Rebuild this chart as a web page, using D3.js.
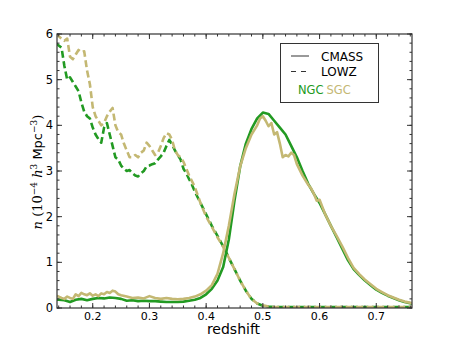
<!DOCTYPE html>
<html>
<head>
<meta charset="utf-8">
<script src="https://cdn.jsdelivr.net/npm/d3@7"></script>
<style>
  body { margin: 0; background: #fff; }
  svg text { font-family: "DejaVu Sans", sans-serif; }
</style>
</head>
<body>
<script>
var width = 458, height = 343;
var margin = {left: 57, right: 46, top: 34, bottom: 35};

// CMASS NGC (solid green)
var cmassNgcZ = [0.135,0.14,0.15,0.16,0.17,0.18,0.19,0.20,0.21,0.22,0.23,0.24,0.25,0.26,0.27,0.28,0.29,0.30,0.31,0.32,0.33,0.34,0.35,0.36,0.37,0.38,0.39,0.40,0.41,0.42,0.43,0.44,0.45,0.46,0.47,0.48,0.49,0.50,0.51,0.52,0.53,0.54,0.55,0.56,0.57,0.58,0.59,0.60,0.61,0.62,0.63,0.64,0.65,0.66,0.67,0.68,0.69,0.70,0.71,0.72,0.73,0.74,0.75,0.765];
var cmassNgcN = [0.18,0.18,0.17,0.13,0.18,0.2,0.17,0.2,0.22,0.21,0.23,0.22,0.2,0.16,0.17,0.15,0.16,0.15,0.15,0.14,0.13,0.13,0.13,0.14,0.16,0.18,0.22,0.3,0.42,0.6,0.9,1.5,2.35,3.1,3.6,3.92,4.15,4.28,4.25,4.1,3.95,3.8,3.55,3.3,3.0,2.72,2.5,2.3,2.05,1.8,1.55,1.3,1.05,0.85,0.72,0.6,0.5,0.4,0.33,0.27,0.22,0.17,0.13,0.09];

// CMASS SGC (solid khaki)
var cmassSgcZ = [0.135,0.14,0.145,0.15,0.155,0.16,0.165,0.17,0.175,0.18,0.185,0.19,0.195,0.20,0.205,0.21,0.215,0.22,0.225,0.23,0.235,0.24,0.245,0.25,0.26,0.27,0.28,0.29,0.30,0.31,0.32,0.33,0.34,0.35,0.36,0.37,0.38,0.39,0.40,0.41,0.42,0.43,0.44,0.45,0.46,0.47,0.48,0.49,0.495,0.50,0.505,0.51,0.515,0.52,0.525,0.53,0.535,0.54,0.545,0.55,0.555,0.56,0.57,0.58,0.585,0.59,0.595,0.60,0.61,0.62,0.63,0.64,0.65,0.66,0.67,0.68,0.69,0.70,0.71,0.72,0.73,0.74,0.75,0.765];
var cmassSgcN = [0.27,0.25,0.22,0.2,0.25,0.22,0.2,0.3,0.26,0.33,0.3,0.28,0.32,0.27,0.3,0.26,0.32,0.3,0.35,0.33,0.38,0.36,0.3,0.28,0.25,0.22,0.23,0.21,0.26,0.22,0.2,0.22,0.2,0.19,0.2,0.22,0.25,0.3,0.38,0.5,0.75,1.2,1.8,2.5,3.1,3.5,3.8,4.0,4.15,4.2,4.1,3.98,4.05,3.8,3.85,3.6,3.3,3.35,3.32,3.4,3.35,3.15,2.9,2.7,2.62,2.5,2.35,2.37,2.05,1.8,1.58,1.35,1.1,0.88,0.74,0.62,0.52,0.42,0.35,0.28,0.23,0.18,0.14,0.1];

// LOWZ NGC (dashed green)
var lowzNgcZ = [0.135,0.14,0.145,0.15,0.155,0.16,0.165,0.17,0.175,0.18,0.185,0.19,0.195,0.20,0.205,0.21,0.215,0.22,0.225,0.23,0.235,0.24,0.245,0.25,0.255,0.26,0.265,0.27,0.275,0.28,0.285,0.29,0.295,0.30,0.305,0.31,0.315,0.32,0.325,0.33,0.335,0.34,0.345,0.35,0.355,0.36,0.365,0.37,0.375,0.38,0.39,0.40,0.41,0.42,0.43,0.44,0.45,0.46,0.47,0.48,0.49,0.50,0.51,0.52,0.55,0.60,0.65,0.70,0.765];
var lowzNgcN = [5.8,5.75,5.7,5.3,5.0,5.05,4.95,4.85,4.75,4.5,4.3,4.2,4.15,3.95,3.8,3.7,3.62,3.95,4.05,3.8,3.55,3.3,3.25,3.12,3.05,3.0,3.02,2.95,2.9,2.88,2.95,3.0,3.1,3.12,3.15,3.17,3.25,3.32,3.4,3.55,3.68,3.58,3.45,3.35,3.25,3.05,2.95,2.82,2.7,2.55,2.3,2.05,1.8,1.58,1.35,1.1,0.85,0.6,0.38,0.2,0.1,0.05,0.03,0.02,0.02,0.02,0.02,0.02,0.02];

// LOWZ SGC (dashed khaki)
var lowzSgcZ = [0.135,0.14,0.145,0.15,0.155,0.16,0.165,0.17,0.175,0.18,0.185,0.19,0.195,0.20,0.205,0.21,0.215,0.22,0.225,0.23,0.235,0.24,0.245,0.25,0.255,0.26,0.265,0.27,0.275,0.28,0.285,0.29,0.295,0.30,0.305,0.31,0.315,0.32,0.325,0.33,0.335,0.34,0.345,0.35,0.355,0.36,0.365,0.37,0.38,0.39,0.40,0.41,0.42,0.43,0.44,0.45,0.46,0.47,0.48,0.49,0.50,0.51,0.52,0.55,0.60,0.65,0.70,0.765];
var lowzSgcN = [6.0,5.95,5.9,5.85,5.9,5.5,5.45,5.55,5.65,5.6,5.62,5.2,4.9,4.4,4.2,4.1,4.0,4.05,4.2,4.3,4.38,4.0,3.85,3.8,3.6,3.45,3.3,3.3,3.35,3.3,3.4,3.45,3.62,3.55,3.45,3.35,3.4,3.55,3.72,3.83,3.8,3.68,3.45,3.35,3.3,3.2,3.05,2.9,2.65,2.3,2.0,1.78,1.55,1.34,1.1,0.85,0.6,0.38,0.2,0.1,0.06,0.03,0.02,0.02,0.02,0.02,0.02,0.02];

var xTicks = [0.2,0.3,0.4,0.5,0.6,0.7];
var yTicks = [0,1,2,3,4,5,6];

var green = "#229a22";
var khaki = "#c4b873";

var svg = d3.select("body").append("svg")
    .attr("width", width).attr("height", height);

var x = d3.scaleLinear().domain([0.137, 0.763]).range([margin.left, width - margin.right]);
var y = d3.scaleLinear().domain([0, 6]).range([height - margin.bottom, margin.top]);

svg.append("defs").append("clipPath").attr("id", "clip")
  .append("rect")
  .attr("x", margin.left).attr("y", margin.top)
  .attr("width", width - margin.left - margin.right)
  .attr("height", height - margin.top - margin.bottom);

var line = d3.line().x(function(d){ return x(d[0]); }).y(function(d){ return y(d[1]); });

function pairs(zs, ns) {
  return zs.map(function(z, i){ return [z, ns[i]]; });
}

var series = [
  {d: pairs(lowzNgcZ, lowzNgcN), c: green, dash: "7,3.5"},
  {d: pairs(lowzSgcZ, lowzSgcN), c: khaki, dash: "7,3.5"},
  {d: pairs(cmassNgcZ, cmassNgcN), c: green, dash: null},
  {d: pairs(cmassSgcZ, cmassSgcN), c: khaki, dash: null}
];

var plot = svg.append("g").attr("clip-path", "url(#clip)");
series.forEach(function(s){
  plot.append("path")
    .attr("d", line(s.d))
    .attr("fill", "none")
    .attr("stroke", s.c)
    .attr("stroke-width", 2.6)
    .attr("stroke-linejoin", "round")
    .attr("stroke-dasharray", s.dash);
});

// axes with inward ticks on all sides
var axisColor = "#333";
var x0 = margin.left, x1 = width - margin.right, y0 = height - margin.bottom, y1 = margin.top;
var xMinor = d3.range(0.14, 0.7601, 0.02);
var yMinor = d3.range(0, 6.001, 0.2);

var axes = svg.append("g");
function ticks(g, vals, len) {
  vals.forEach(function(v){
    var px = x(v);
    g.append("line").attr("x1", px).attr("x2", px).attr("y1", y0).attr("y2", y0 - len);
    g.append("line").attr("x1", px).attr("x2", px).attr("y1", y1).attr("y2", y1 + len);
  });
}
function yticks(g, vals, len) {
  vals.forEach(function(v){
    var py = y(v);
    g.append("line").attr("x1", x0).attr("x2", x0 + len).attr("y1", py).attr("y2", py);
    g.append("line").attr("x1", x1).attr("x2", x1 - len).attr("y1", py).attr("y2", py);
  });
}
var tg = axes.append("g").attr("stroke", axisColor).attr("stroke-width", 1);
ticks(tg, xMinor, 2.5);
ticks(tg, xTicks, 5);
yticks(tg, yMinor, 2.5);
yticks(tg, yTicks, 5);

axes.append("rect")
  .attr("x", x0).attr("y", y1).attr("width", x1 - x0).attr("height", y0 - y1)
  .attr("fill", "none").attr("stroke", axisColor).attr("stroke-width", 1.2);

svg.append("g").selectAll("text").data(xTicks).enter().append("text")
  .attr("x", function(d){ return x(d); })
  .attr("y", y0 + 11.5)
  .attr("text-anchor", "middle")
  .attr("font-size", 11)
  .text(function(d){ return d3.format(".1f")(d); });

svg.append("g").selectAll("text").data(yTicks).enter().append("text")
  .attr("x", x0 - 4)
  .attr("y", function(d){ return y(d) + 4; })
  .attr("text-anchor", "end")
  .attr("font-size", 11.5)
  .text(function(d){ return d; });

svg.append("text")
  .attr("x", (x0 + x1) / 2 - 1)
  .attr("y", 334)
  .attr("text-anchor", "middle")
  .attr("font-size", 14)
  .text("redshift");

// y label with math parts
var yl = svg.append("text")
  .attr("transform", "translate(42,172) rotate(-90)")
  .attr("text-anchor", "middle")
  .attr("font-size", 13);
yl.append("tspan").attr("font-family", "DejaVu Serif").attr("font-style", "italic").text("n");
yl.append("tspan").attr("font-family", "DejaVu Serif").text(" (10");
yl.append("tspan").attr("font-family", "DejaVu Serif").attr("font-size", 9).attr("dy", -5).text("−4");
yl.append("tspan").attr("font-family", "DejaVu Serif").attr("font-style", "italic").attr("dy", 5).text(" h");
yl.append("tspan").attr("font-family", "DejaVu Serif").attr("font-size", 9).attr("dy", -5).text("3");
yl.append("tspan").attr("dy", 5).text(" Mpc");
yl.append("tspan").attr("font-family", "DejaVu Serif").attr("font-size", 9).attr("dy", -5).text("−3");
yl.append("tspan").attr("font-family", "DejaVu Serif").attr("dy", 5).text(")");

// legend
var lg = svg.append("g");
lg.append("rect").attr("x", 280.5).attr("y", 43.5).attr("width", 98).attr("height", 59)
  .attr("fill", "#fff").attr("stroke", "#333").attr("stroke-width", 1);
lg.append("line").attr("x1", 291).attr("x2", 309).attr("y1", 56).attr("y2", 56)
  .attr("stroke", "#555").attr("stroke-width", 1.2);
lg.append("line").attr("x1", 291).attr("x2", 309).attr("y1", 71.5).attr("y2", 71.5)
  .attr("stroke", "#333").attr("stroke-width", 1.2).attr("stroke-dasharray", "5,5");
lg.append("text").attr("x", 321).attr("y", 60.5).attr("font-size", 12).text("CMASS");
lg.append("text").attr("x", 321).attr("y", 76).attr("font-size", 12).text("LOWZ");
var ns = lg.append("text").attr("x", 298).attr("y", 94).attr("font-size", 11.5);
ns.append("tspan").attr("fill", green).text("NGC");
ns.append("tspan").attr("fill", khaki).attr("dx", 3).text("SGC");
</script>
</body>
</html>
